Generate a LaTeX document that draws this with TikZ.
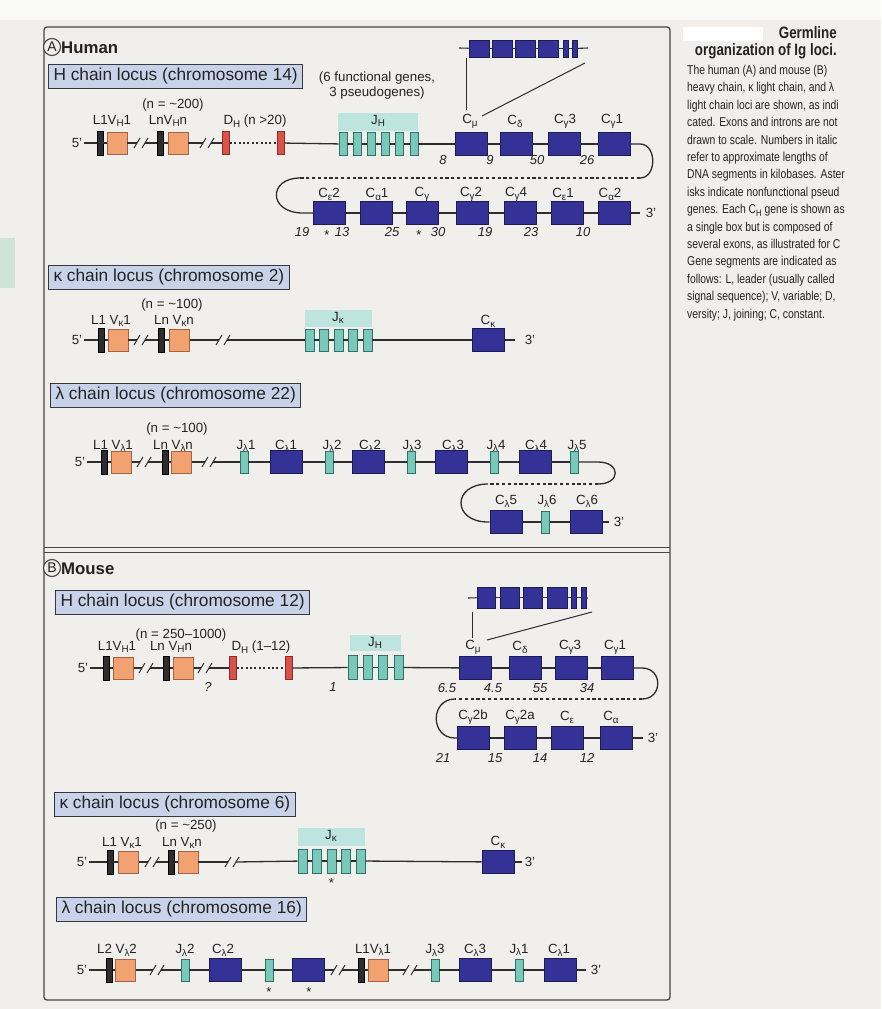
\documentclass[tikz,border=0pt]{standalone}
\usepackage{fontspec}
\usepackage{graphicx}
\setmainfont{Liberation Sans}
\newfontfamily\capfont{Liberation Sans}[FakeStretch=0.81]
\usetikzlibrary{calc}
\definecolor{bgc}{RGB}{240,239,235}
\definecolor{txt}{RGB}{35,35,35}
\definecolor{linec}{RGB}{45,45,45}
\definecolor{framec}{RGB}{70,70,70}
\definecolor{lblk}{RGB}{45,45,45}
\definecolor{vfill}{RGB}{241,162,112}
\definecolor{vbord}{RGB}{165,98,68}
\definecolor{dfill}{RGB}{218,82,72}
\definecolor{dbord}{RGB}{140,45,45}
\definecolor{jfill}{RGB}{122,200,186}
\definecolor{jbord}{RGB}{45,115,105}
\definecolor{bandc}{RGB}{190,228,224}
\definecolor{cfill}{RGB}{52,50,150}
\definecolor{cbord}{RGB}{28,28,85}
\definecolor{hdrf}{RGB}{200,211,234}
\definecolor{hdrb}{RGB}{55,55,65}
\definecolor{tabc}{RGB}{205,228,214}
\newcommand\sbx[1]{\raisebox{-0.4ex}{\scalebox{0.74}{#1}}}
\tikzset{
  dna/.style={draw=linec,line width=1.3pt},
  dnadash/.style={draw=linec,line width=1.3pt,dash pattern=on 3.2pt off 2.6pt},
  dnadot/.style={draw=linec,line width=1.3pt,dash pattern=on 2pt off 2.4pt},
  slash/.style={draw=linec,line width=1pt},
  guide/.style={draw=linec,line width=1pt},
  lseg/.style={draw=black,fill=lblk,minimum width=6pt,minimum height=24pt,inner sep=0pt,line width=0.6pt},
  vseg/.style={draw=vbord,fill=vfill,minimum width=20pt,minimum height=22pt,inner sep=0pt,line width=0.8pt},
  dseg/.style={draw=dbord,fill=dfill,minimum width=7pt,minimum height=23pt,inner sep=0pt,line width=0.6pt},
  jseg/.style={draw=jbord,fill=jfill,minimum width=8pt,minimum height=22pt,inner sep=0pt,line width=0.7pt},
  cseg/.style={draw=cbord,fill=cfill,minimum width=32pt,minimum height=23pt,inner sep=0pt,line width=0.8pt},
  exon/.style={draw=cbord,fill=cfill,minimum height=17pt,inner sep=0pt,line width=0.7pt},
  lbl/.style={font=\fontsize{13.3}{15}\selectfont,inner sep=0pt,text=txt},
  endl/.style={font=\fontsize{13.3}{15}\selectfont,inner sep=2pt,text=txt},
  num/.style={font=\fontsize{13}{14}\selectfont\itshape,inner sep=0pt,text=txt},
  ast/.style={font=\fontsize{13}{14}\selectfont,inner sep=0pt,text=txt},
  hdr/.style={draw=hdrb,fill=hdrf,line width=1pt,font=\fontsize{17.3}{20}\selectfont,inner xsep=5pt,inner ysep=0pt,minimum height=24pt,anchor=north west,text=txt},
  band/.style={fill=bandc,draw=none},
  captxt/.style={font=\capfont\fontsize{12.8}{15}\selectfont,inner sep=0pt,anchor=base west,text=txt},
  caphead/.style={font=\capfont\bfseries\fontsize{16.5}{18}\selectfont,inner sep=0pt,anchor=base east,text=txt},
  secttxt/.style={font=\fontsize{16.8}{18}\selectfont\bfseries,inner sep=0pt,anchor=west,text=txt},
  circlbl/.style={circle,draw=framec,fill=bgc,line width=1.1pt,minimum size=17pt,inner sep=0pt,font=\fontsize{14}{14}\selectfont,text=txt}
}
\newcommand\dnabreak[3]{%
  \coordinate (#1l) at ({#2-4},#3);
  \coordinate (#1r) at ({#2+4},#3);
  \draw[slash] ({#2-7},{#3+5}) -- ({#2-1},{#3-5});
  \draw[slash] ({#2+1},{#3+5}) -- ({#2+7},{#3-5});
}
\begin{document}
\begin{tikzpicture}[x=1pt,y=-1pt]
\useasboundingbox (0,0) rectangle (881,1009);
\fill[bgc] (0,0) rectangle (881,1009);
\fill[white!60!bgc] (0,0) rectangle (881,20);
\fill[tabc] (0,238) rectangle (15,288);
% frame
\draw[framec,line width=1.3pt,rounded corners=3pt] (44,27) rectangle (670,1000);
\draw[framec,line width=1pt] (44,547) -- (670,547);
\draw[framec,line width=1pt] (44,552) -- (670,552);

% ================= caption =================
\fill[white] (683,27) rectangle (763,41);
\node[caphead] (capA) at (837,38.5) {Germline};
\node[caphead] (capB) at (837,55.5) {organization of Ig loci.};
\node[captxt] (c1) at (687,74.5) {The human (A) and mouse (B)};
\node[captxt] (c2) at (687,91.9) {heavy chain, κ light chain, and λ};
\node[captxt] (c3) at (687,109.3) {light chain loci are shown, as indi};
\node[captxt] (c4) at (687,126.7) {cated. Exons and introns are not};
\node[captxt] (c5) at (687,144.1) {drawn to scale. Numbers in italic};
\node[captxt] (c6) at (687,161.5) {refer to approximate lengths of};
\node[captxt] (c7) at (687,178.9) {DNA segments in kilobases. Aster};
\node[captxt] (c8) at (687,196.3) {isks indicate nonfunctional pseud};
\node[captxt] (c9) at (687,213.7) {genes. Each C\sbx{H} gene is shown as};
\node[captxt] (c10) at (687,231.1) {a single box but is composed of};
\node[captxt] (c11) at (687,248.5) {several exons, as illustrated for C};
\node[captxt] (c12) at (687,265.9) {Gene segments are indicated as};
\node[captxt] (c13) at (687,283.3) {follows: L, leader (usually called};
\node[captxt] (c14) at (687,300.7) {signal sequence); V, variable; D,};
\node[captxt] (c15) at (687,318.1) {versity; J, joining; C, constant.};

% ================= A Human =================
\node[circlbl] (circA) at (52,47) {A};
\node[secttxt] (human) at (61,48) {Human};

% ---- H chain locus (chromosome 14)
\node[hdr] (hHdr) at (48,64) {H chain locus (chromosome 14)};
\node[lbl,align=center] (hFun) at (377,86) {(6 functional genes,\\3 pseudogenes)};
\node[lbl] (hN) at (173,105) {(n = \textasciitilde200)};
\node[lbl] (hLa1) at (112,121) {L1V\sbx{H}1};
\node[lbl] (hLan) at (168,121) {LnV\sbx{H}n};
\node[lbl] (hDa) at (255,121) {D\sbx{H} (n >20)};
\fill[band] (338,113) rectangle (418,131);
\node[lbl] (hJa) at (378,121) {J\sbx{H}};

\node[endl] (h5) at (77,143) {5'};
\node[lseg] (hL1) at (100,143) {};
\node[vseg] (hV1) at (117,143) {};
\dnabreak{hb1}{141}{143}
\node[lseg] (hLn) at (160,143) {};
\node[vseg] (hVn) at (178,143) {};
\dnabreak{hb2}{207}{143}
\node[dseg] (hD1) at (226,143) {};
\node[dseg] (hD2) at (281,143) {};
\foreach \i/\x in {1/343,2/357.2,3/371.4,4/385.6,5/399.8,6/414}
  \node[jseg,minimum height=23pt] (hJ\i) at (\x,144) {};
\node[cseg] (hCmu) at (471,144) {};
\node[cseg] (hCd) at (516,144) {};
\node[cseg] (hCgt) at (564,144) {};
\node[cseg] (hCgo) at (614,144) {};
\foreach \a/\b in {h5/hL1,hL1/hV1,hLn/hVn,hD2/hJ1,hJ1/hJ2,hJ2/hJ3,hJ3/hJ4,hJ4/hJ5,hJ5/hJ6,hJ6/hCmu,hCmu/hCd,hCd/hCgt,hCgt/hCgo}
  \draw[dna] (\a) -- (\b);
\draw[dna] (hV1) -- (hb1l);
\draw[dna] (hb1r) -- (hLn);
\draw[dna] (hVn) -- (hb2l);
\draw[dna] (hb2r) -- (hD1);
\draw[dnadot] (hD1) -- (hD2);
\node[lbl] (hCmuL) at (470,121) {C\sbx{μ}};
\node[lbl] (hCdL) at (515,121) {C\sbx{δ}};
\node[lbl] (hCgtL) at (565,121) {C\sbx{γ}3};
\node[lbl] (hCgoL) at (612,121) {C\sbx{γ}1};
\node[num] (hn1) at (443,160) {8};
\node[num] (hn2) at (490,160) {9};
\node[num] (hn3) at (537,160) {50};
\node[num] (hn4) at (587,160) {26};
% inset (C mu exons)
\coordinate (hx0) at (459,48);
\coordinate (hx7) at (588,48);
\node[exon,minimum width=20pt] (hx1) at (479,48.5) {};
\node[exon,minimum width=20pt] (hx2) at (502,48.5) {};
\node[exon,minimum width=20pt] (hx3) at (525,48.5) {};
\node[exon,minimum width=20pt] (hx4) at (548,48.5) {};
\node[exon,minimum width=5pt] (hx5) at (565.5,48.5) {};
\node[exon,minimum width=5pt] (hx6) at (575,48.5) {};
\draw[dna,line width=1.1pt] (hx0) -- (hx1);
\foreach \a/\b in {hx1/hx2,hx2/hx3,hx3/hx4,hx4/hx5,hx5/hx6} \draw[dna,line width=1.1pt] (\a) -- (\b);
\draw[dna,line width=1.1pt] (hx6) -- (hx7);
\coordinate (hg1) at (466,58);
\coordinate (hg2) at (466,110);
\coordinate (hg3) at (585,63);
\coordinate (hg4) at (482,116);
\draw[guide] (hg1) -- (hg2);
\draw[guide] (hg3) -- (hg4);
% loop
\coordinate (hr1) at (640,144);
\coordinate (hr2) at (640,178);
\coordinate (hl1) at (300,178);
\coordinate (hl2) at (303,213);
\draw[dna] (hCgo) -- (hr1) .. controls (657,144) and (657,178) .. (hr2);
\draw[dnadash] (hr2) -- (hl1);
% row 2
\node[cseg] (hCet) at (329.5,213) {};
\node[cseg] (hCao) at (376.5,213) {};
\node[cseg] (hCgp) at (422.5,213) {};
\node[cseg] (hCgw) at (472.5,213) {};
\node[cseg] (hCgf) at (520.5,213) {};
\node[cseg] (hCeo) at (567.5,213) {};
\node[cseg] (hCaw) at (614.5,213) {};
\coordinate (h3e) at (640,213);
\node[endl] (h3) at (651,213) {3'};
\draw[dna] (hl1) .. controls (268,178) and (268,213) .. (hl2) -- (hCet);
\foreach \a/\b in {hCet/hCao,hCao/hCgp,hCgp/hCgw,hCgw/hCgf,hCgf/hCeo,hCeo/hCaw}
  \draw[dna] (\a) -- (\b);
\draw[dna] (hCaw) -- (h3e);
\node[lbl] (hCetL) at (329,194) {C\sbx{ε}2};
\node[lbl] (hCaoL) at (377,194) {C\sbx{α}1};
\node[lbl] (hCgpL) at (422,194) {C\sbx{γ}};
\node[lbl] (hCgwL) at (471,194) {C\sbx{γ}2};
\node[lbl] (hCgfL) at (516,194) {C\sbx{γ}4};
\node[lbl] (hCeoL) at (563,194) {C\sbx{ε}1};
\node[lbl] (hCawL) at (610,194) {C\sbx{α}2};
\node[num] (hm1) at (302,232) {19};
\node[ast] (hs1) at (327,235) {*};
\node[num] (hm2) at (342,232) {13};
\node[num] (hm3) at (392,232) {25};
\node[ast] (hs2) at (419,235) {*};
\node[num] (hm4) at (438,232) {30};
\node[num] (hm5) at (485,232) {19};
\node[num] (hm6) at (531,232) {23};
\node[num] (hm7) at (583,232) {10};

% ---- kappa chain locus (chromosome 2)
\node[hdr] (kHdr) at (48,265) {κ chain locus (chromosome 2)};
\node[lbl] (kN) at (172,305) {(n = \textasciitilde100)};
\node[lbl] (kLa1) at (111,321) {L1 V\sbx{κ}1};
\node[lbl] (kLan) at (174,321) {Ln V\sbx{κ}n};
\fill[band] (305,310) rectangle (372,327);
\node[lbl] (kJa) at (338,318) {J\sbx{κ}};
\node[lbl] (kCa) at (488,321) {C\sbx{κ}};
\node[endl] (k5) at (77,340) {5'};
\node[lseg] (kL1) at (101.5,340) {};
\node[vseg] (kV1) at (118,340) {};
\dnabreak{kb1}{141}{340}
\node[lseg] (kLn) at (161.5,340) {};
\node[vseg] (kVn) at (179.5,340) {};
\dnabreak{kb2}{223}{340}
\foreach \i/\x in {1/309.5,2/324,3/338.5,4/353,5/367.5}
  \node[jseg,minimum width=9pt] (kJ\i) at (\x,340) {};
\node[cseg] (kC) at (488.5,340) {};
\coordinate (k3e) at (515,340);
\node[endl] (k3) at (530,340) {3'};
\foreach \a/\b in {k5/kL1,kL1/kV1,kLn/kVn,kJ1/kJ2,kJ2/kJ3,kJ3/kJ4,kJ4/kJ5,kJ5/kC}
  \draw[dna] (\a) -- (\b);
\draw[dna] (kV1) -- (kb1l);
\draw[dna] (kb1r) -- (kLn);
\draw[dna] (kVn) -- (kb2l);
\draw[dna] (kb2r) -- (kJ1);
\draw[dna] (kC) -- (k3e);

% ---- lambda chain locus (chromosome 22)
\node[hdr] (lHdr) at (50,383) {λ chain locus (chromosome 22)};
\node[lbl] (lN) at (177,429) {(n = \textasciitilde100)};
\node[lbl] (lLa1) at (113,446) {L1 V\sbx{λ}1};
\node[lbl] (lLan) at (173,446) {Ln V\sbx{λ}n};
\node[lbl] (lJaa) at (246,446) {J\sbx{λ}1};
\node[lbl] (lCaa) at (286,446) {C\sbx{λ}1};
\node[lbl] (lJab) at (332,446) {J\sbx{λ}2};
\node[lbl] (lCab) at (370,446) {C\sbx{λ}2};
\node[lbl] (lJac) at (412,446) {J\sbx{λ}3};
\node[lbl] (lCac) at (453,446) {C\sbx{λ}3};
\node[lbl] (lJad) at (496,446) {J\sbx{λ}4};
\node[lbl] (lCad) at (536,446) {C\sbx{λ}4};
\node[lbl] (lJae) at (577,446) {J\sbx{λ}5};
\node[endl] (l5) at (80,462) {5'};
\node[lseg] (lL1) at (104.5,462) {};
\node[vseg] (lV1) at (121.5,462) {};
\dnabreak{lb1}{144}{462}
\node[lseg] (lLn) at (165,462) {};
\node[vseg] (lVn) at (181.5,462) {};
\dnabreak{lb2}{209}{462}
\node[jseg] (lJ1) at (244,462) {};
\node[cseg] (lC1) at (286,462) {};
\node[jseg] (lJ2) at (329,462) {};
\node[cseg] (lC2) at (368.5,462) {};
\node[jseg] (lJ3) at (411,462) {};
\node[cseg] (lC3) at (451.5,462) {};
\node[jseg] (lJ4) at (494.5,462) {};
\node[cseg] (lC4) at (535,462) {};
\node[jseg] (lJ5) at (574.5,462) {};
\foreach \a/\b in {l5/lL1,lL1/lV1,lLn/lVn,lJ1/lC1,lC1/lJ2,lJ2/lC2,lC2/lJ3,lJ3/lC3,lC3/lJ4,lJ4/lC4,lC4/lJ5}
  \draw[dna] (\a) -- (\b);
\draw[dna] (lV1) -- (lb1l);
\draw[dna] (lb1r) -- (lLn);
\draw[dna] (lVn) -- (lb2l);
\draw[dna] (lb2r) -- (lJ1);
\coordinate (lr1) at (598,462);
\coordinate (lr2) at (598,484);
\coordinate (ll1) at (488,484);
\coordinate (ll2) at (488,522);
\draw[dna] (lJ5) -- (lr1) .. controls (621,462) and (621,484) .. (lr2);
\draw[dnadash] (lr2) -- (ll1);
\node[cseg] (lC5) at (506,522) {};
\node[jseg] (lJ6) at (545.5,522) {};
\node[cseg] (lC6) at (586.5,522) {};
\coordinate (l3e) at (609,522);
\node[endl] (l3) at (619,522) {3'};
\draw[dna] (ll1) .. controls (452,484) and (452,522) .. (ll2) -- (lC5);
\draw[dna] (lC5) -- (lJ6);
\draw[dna] (lJ6) -- (lC6);
\draw[dna] (lC6) -- (l3e);
\node[lbl] (lCaf) at (506,501) {C\sbx{λ}5};
\node[lbl] (lJaf) at (547,501) {J\sbx{λ}6};
\node[lbl] (lCag) at (587,501) {C\sbx{λ}6};

% ================= B Mouse =================
\node[circlbl] (circB) at (52,568) {B};
\node[secttxt] (mouse) at (61,569) {Mouse};

% ---- H chain locus (chromosome 12)
\node[hdr] (mHdr) at (55,590) {H chain locus (chromosome 12)};
\node[lbl] (mN) at (181,635) {(n = 250–1000)};
\node[lbl] (mLa1) at (117,647) {L1V\sbx{H}1};
\node[lbl] (mLan) at (171,647) {Ln V\sbx{H}n};
\node[lbl] (mDa) at (261,647) {D\sbx{H} (1–12)};
\fill[band] (350,635) rectangle (401,651);
\node[lbl] (mJa) at (375,643) {J\sbx{H}};
\node[endl] (m5) at (83,668) {5'};
\node[lseg] (mL1) at (106.5,668) {};
\node[vseg] (mV1) at (123.5,668) {};
\dnabreak{mb1}{146}{668}
\node[lseg] (mLn) at (166.5,668) {};
\node[vseg] (mVn) at (183.5,668) {};
\dnabreak{mb2}{205}{668}
\node[dseg] (mD1) at (233,668) {};
\node[dseg] (mD2) at (288.5,668) {};
\foreach \i/\x in {1/352.5,2/367.8,3/383.2,4/398.5}
  \node[jseg,minimum width=9pt,minimum height=24pt] (mJ\i) at (\x,667.5) {};
\node[cseg] (mCmu) at (475.5,668) {};
\node[cseg] (mCd) at (525,668) {};
\node[cseg] (mCgt) at (571.5,668) {};
\node[cseg] (mCgo) at (617.5,668) {};
\foreach \a/\b in {m5/mL1,mL1/mV1,mLn/mVn,mD2/mJ1,mJ1/mJ2,mJ2/mJ3,mJ3/mJ4,mJ4/mCmu,mCmu/mCd,mCd/mCgt,mCgt/mCgo}
  \draw[dna] (\a) -- (\b);
\draw[dna] (mV1) -- (mb1l);
\draw[dna] (mb1r) -- (mLn);
\draw[dna] (mVn) -- (mb2l);
\draw[dna] (mb2r) -- (mD1);
\draw[dnadot] (mD1) -- (mD2);
\node[num] (mq) at (208,687) {?};
\node[num] (mn0) at (333,687) {1};
\node[num] (mn1) at (447,688) {6.5};
\node[num] (mn2) at (493,688) {4.5};
\node[num] (mn3) at (540,688) {55};
\node[num] (mn4) at (587,688) {34};
\node[lbl] (mCmuL) at (473,647) {C\sbx{μ}};
\node[lbl] (mCdL) at (520,647) {C\sbx{δ}};
\node[lbl] (mCgtL) at (570,647) {C\sbx{γ}3};
\node[lbl] (mCgoL) at (615,647) {C\sbx{γ}1};
% inset
\coordinate (mx0) at (468,598);
\coordinate (mx7) at (588,598);
\node[exon,minimum width=18pt,minimum height=21pt] (mx1) at (486,597.5) {};
\node[exon,minimum width=19pt,minimum height=21pt] (mx2) at (509.5,597.5) {};
\node[exon,minimum width=19pt,minimum height=21pt] (mx3) at (532.5,597.5) {};
\node[exon,minimum width=20pt,minimum height=21pt] (mx4) at (557,597.5) {};
\node[exon,minimum width=5pt,minimum height=21pt] (mx5) at (573.5,597.5) {};
\node[exon,minimum width=5pt,minimum height=21pt] (mx6) at (583.5,597.5) {};
\draw[dna,line width=1.1pt] (mx0) -- (mx1);
\foreach \a/\b in {mx1/mx2,mx2/mx3,mx3/mx4,mx4/mx5,mx5/mx6} \draw[dna,line width=1.1pt] (\a) -- (\b);
\draw[dna,line width=1.1pt] (mx6) -- (mx7);
\coordinate (mg1) at (472,612);
\coordinate (mg2) at (472,638);
\coordinate (mg3) at (592,612);
\coordinate (mg4) at (487,640);
\draw[guide] (mg1) -- (mg2);
\draw[guide] (mg3) -- (mg4);
% loop
\coordinate (mr1) at (642,668);
\coordinate (mr2) at (642,699);
\coordinate (ml1) at (455,699);
\coordinate (ml2) at (455,738);
\draw[dna] (mCgo) -- (mr1) .. controls (663,668) and (663,699) .. (mr2);
\draw[dnadash] (mr2) -- (ml1);
\node[cseg] (mCgb) at (473.5,738) {};
\node[cseg] (mCga) at (520.5,738) {};
\node[cseg] (mCe) at (567.5,738) {};
\node[cseg] (mCa) at (616,738) {};
\coordinate (m3e) at (643,738);
\node[endl] (m3) at (653,738) {3'};
\draw[dna] (ml1) .. controls (430,699) and (430,738) .. (ml2) -- (mCgb);
\foreach \a/\b in {mCgb/mCga,mCga/mCe,mCe/mCa} \draw[dna] (\a) -- (\b);
\draw[dna] (mCa) -- (m3e);
\node[lbl] (mCgbL) at (473,717) {C\sbx{γ}2b};
\node[lbl] (mCgaL) at (520,717) {C\sbx{γ}2a};
\node[lbl] (mCeL) at (567,717) {C\sbx{ε}};
\node[lbl] (mCaL) at (611,717) {C\sbx{α}};
\node[num] (mm1) at (443,758) {21};
\node[num] (mm2) at (495,758) {15};
\node[num] (mm3) at (540,758) {14};
\node[num] (mm4) at (587,758) {12};

% ---- kappa chain locus (chromosome 6)
\node[hdr] (nHdr) at (54,792) {κ chain locus (chromosome 6)};
\node[lbl] (nN) at (186,826) {(n = \textasciitilde250)};
\node[lbl] (nLa1) at (122,843) {L1 V\sbx{κ}1};
\node[lbl] (nLan) at (182,843) {Ln V\sbx{κ}n};
\fill[band] (298,828) rectangle (365,846);
\node[lbl] (nJa) at (331,836) {J\sbx{κ}};
\node[lbl] (nCa) at (498,842) {C\sbx{κ}};
\node[endl] (n5) at (82,862) {5'};
\node[lseg] (nL1) at (110,862) {};
\node[vseg] (nV1) at (128.5,862) {};
\dnabreak{nb1}{152}{862}
\node[lseg] (nLn) at (171.5,862) {};
\node[vseg] (nVn) at (188,862) {};
\dnabreak{nb2}{232}{862}
\foreach \i/\x in {1/302.5,2/317,3/331.5,4/346,5/360.5}
  \node[jseg,minimum width=9pt,minimum height=24pt] (nJ\i) at (\x,861) {};
\node[cseg] (nC) at (498,862) {};
\coordinate (n3e) at (522,862);
\node[endl] (n3) at (530,862) {3'};
\foreach \a/\b in {n5/nL1,nL1/nV1,nLn/nVn,nJ1/nJ2,nJ2/nJ3,nJ3/nJ4,nJ4/nJ5,nJ5/nC}
  \draw[dna] (\a) -- (\b);
\draw[dna] (nV1) -- (nb1l);
\draw[dna] (nb1r) -- (nLn);
\draw[dna] (nVn) -- (nb2l);
\draw[dna] (nb2r) -- (nJ1);
\draw[dna] (nC) -- (n3e);
\node[ast] (ns1) at (331.5,883) {*};

% ---- lambda chain locus (chromosome 16)
\node[hdr] (oHdr) at (56,897) {λ chain locus (chromosome 16)};
\node[lbl] (oLa2) at (117,950) {L2 V\sbx{λ}2};
\node[lbl] (oJab) at (185,950) {J\sbx{λ}2};
\node[lbl] (oCab) at (223,950) {C\sbx{λ}2};
\node[lbl] (oLa1) at (373,950) {L1V\sbx{λ}1};
\node[lbl] (oJac) at (435,950) {J\sbx{λ}3};
\node[lbl] (oCac) at (475,950) {C\sbx{λ}3};
\node[lbl] (oJaa) at (519,950) {J\sbx{λ}1};
\node[lbl] (oCaa) at (559,950) {C\sbx{λ}1};
\node[endl] (o5) at (82,970) {5'};
\node[lseg] (oL2) at (109.5,970) {};
\node[vseg] (oV2) at (125.5,970) {};
\dnabreak{ob1}{157}{970}
\node[jseg] (oJ2) at (185,970) {};
\node[cseg] (oC2) at (225,970) {};
\node[jseg] (oJp) at (269,970) {};
\node[cseg] (oCp) at (308,970) {};
\dnabreak{ob2}{338}{970}
\node[lseg] (oL1) at (361,970) {};
\node[vseg] (oV1) at (378,970) {};
\dnabreak{ob3}{410}{970}
\node[jseg] (oJ3) at (435,970) {};
\node[cseg] (oC3) at (475,970) {};
\node[jseg] (oJ1) at (519,970) {};
\node[cseg] (oC1) at (560,970) {};
\coordinate (o3e) at (586,970);
\node[endl] (o3) at (596,970) {3'};
\foreach \a/\b in {o5/oL2,oL2/oV2,oJ2/oC2,oC2/oJp,oJp/oCp,oL1/oV1,oJ3/oC3,oC3/oJ1,oJ1/oC1}
  \draw[dna] (\a) -- (\b);
\draw[dna] (oV2) -- (ob1l);
\draw[dna] (ob1r) -- (oJ2);
\draw[dna] (oCp) -- (ob2l);
\draw[dna] (ob2r) -- (oL1);
\draw[dna] (oV1) -- (ob3l);
\draw[dna] (ob3r) -- (oJ3);
\draw[dna] (oC1) -- (o3e);
\node[ast] (os1) at (269,992) {*};
\node[ast] (os2) at (309,992) {*};
\end{tikzpicture}
\end{document}
